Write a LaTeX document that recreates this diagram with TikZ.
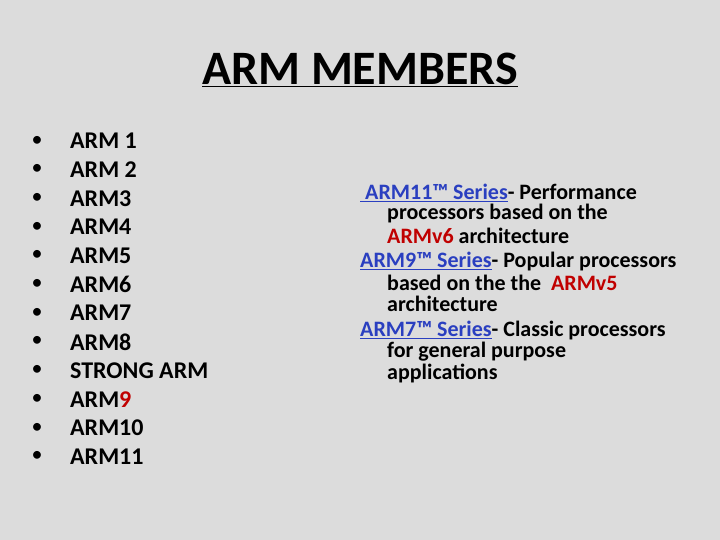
\documentclass[tikz,border=0pt]{standalone}
\usepackage{fontspec}
\setmainfont{Carlito}
\definecolor{bg}{HTML}{DCDCDC}
\definecolor{lnk}{HTML}{2A3FC0}
\definecolor{rd}{HTML}{C00000}
\begin{document}
\begin{tikzpicture}[x=1pt,y=-1pt,
  itm/.style={anchor=west,inner sep=0pt,font=\fontsize{24}{24}\selectfont\bfseries},
  bul/.style={anchor=center,inner sep=0pt,font=\fontsize{22}{22}\selectfont},
  rt/.style={anchor=west,inner sep=0pt,font=\fontsize{22}{22}\selectfont\bfseries}]
\fill[bg] (0,0) rectangle (720,540);
\useasboundingbox (0,0) rectangle (720,540);
\node[inner sep=0pt,font=\fontsize{48}{48}\selectfont\bfseries] (title) at (360,70) {\underline{ARM MEMBERS}};
\foreach \t [count=\i from 0] in {ARM 1,ARM 2,ARM3,ARM4,ARM5,ARM6,ARM7,ARM8,STRONG ARM,ARM{\color{rd}9},ARM10,ARM11}{
  \node[bul] (b\i) at (37,141+28.7*\i) {\textbullet};
  \node[itm] (t\i) at (70,141+28.7*\i) {\t};
}
\node[rt] (r1) at (360,193) {\color{lnk}\underline{\ ARM11™ Series}\color{black} - Performance};
\node[rt] (r2) at (387,214) {processors based on the};
\node[rt] (r3) at (387,236) {{\color{rd}ARMv6} architecture};
\node[rt] (r4) at (360,262) {\color{lnk}\underline{ARM9™ Series}\color{black}- Popular processors};
\node[rt] (r5) at (387,283) {based on the the \ {\color{rd}ARMv5}};
\node[rt] (r6) at (387,304) {architecture};
\node[rt] (r7) at (360,331) {\color{lnk}\underline{ARM7™ Series}\color{black}- Classic processors};
\node[rt] (r8) at (387,352) {for general purpose};
\node[rt] (r9) at (387,373) {applications};
\end{tikzpicture}
\end{document}
